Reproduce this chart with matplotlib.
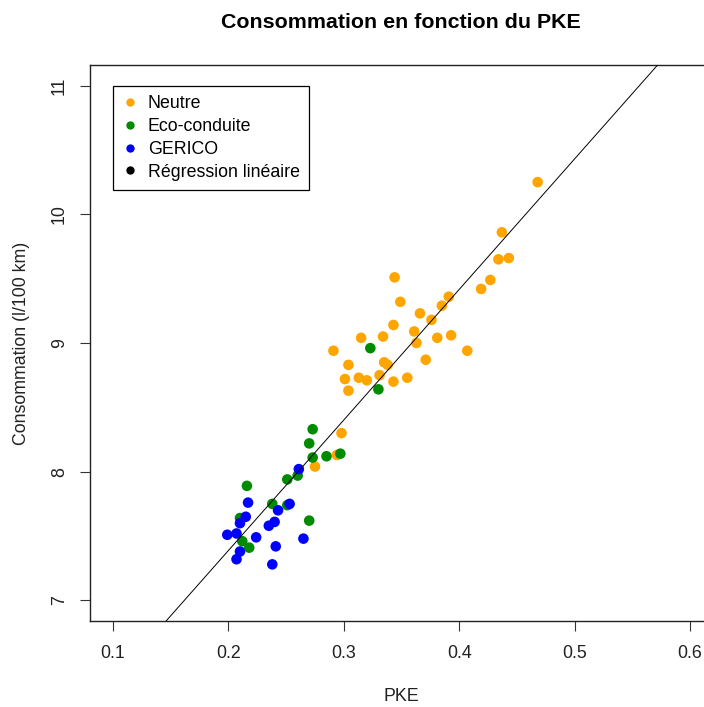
import matplotlib.pyplot as plt
import numpy as np
from matplotlib.lines import Line2D

# values
neutre_pke = [0.298, 0.294, 0.275, 0.344, 0.349, 0.366, 0.343, 0.361, 0.315, 0.334,
              0.363, 0.291, 0.371, 0.304, 0.335, 0.338, 0.301, 0.313, 0.320, 0.331,
              0.355, 0.343, 0.304, 0.468, 0.437, 0.434, 0.443, 0.427, 0.419, 0.391,
              0.385, 0.376, 0.381, 0.393, 0.407]
neutre_conso = [8.30, 8.13, 8.04, 9.51, 9.32, 9.23, 9.14, 9.09, 9.04, 9.05,
                9.00, 8.94, 8.87, 8.83, 8.85, 8.83, 8.72, 8.73, 8.71, 8.75,
                8.73, 8.70, 8.63, 10.25, 9.86, 9.65, 9.66, 9.49, 9.42, 9.36,
                9.29, 9.18, 9.04, 9.06, 8.94]

eco_pke = [0.273, 0.270, 0.273, 0.285, 0.297, 0.251, 0.260, 0.216, 0.238, 0.251,
           0.210, 0.270, 0.212, 0.218, 0.323, 0.330]
eco_conso = [8.33, 8.22, 8.11, 8.12, 8.14, 7.94, 7.97, 7.89, 7.75, 7.74,
             7.64, 7.62, 7.46, 7.41, 8.96, 8.64]

gerico_pke = [0.261, 0.217, 0.253, 0.243, 0.215, 0.210, 0.240, 0.235, 0.199, 0.207,
              0.224, 0.265, 0.241, 0.210, 0.207, 0.238]
gerico_conso = [8.02, 7.76, 7.75, 7.70, 7.65, 7.60, 7.61, 7.58, 7.51, 7.52,
                7.49, 7.48, 7.42, 7.38, 7.32, 7.28]

# regression line as drawn (abline of lm)
reg_intercept = 5.36
reg_slope = 10.14

x_ticks = [0.1, 0.2, 0.3, 0.4, 0.5, 0.6]
y_ticks = [7, 8, 9, 10, 11]

groups = [("Neutre", neutre_pke, neutre_conso, "#FFA500"),
          ("Eco-conduite", eco_pke, eco_conso, "#008B00"),
          ("GERICO", gerico_pke, gerico_conso, "#0000FF")]

plt.rcParams["font.family"] = ["Liberation Sans", "DejaVu Sans"]
fs = 12.8

fig = plt.figure(figsize=(7.04, 7.07), dpi=100)
ax = fig.add_axes([90 / 704, 86 / 707, 623 / 704, 556 / 707])

for name, xs, ys, col in groups:
    ax.scatter(xs, ys, s=58, color=col, edgecolors="none", zorder=2)

ax.axline((0, reg_intercept), slope=reg_slope, color="black", lw=0.7, zorder=3)

ax.set_xlim(0.08, 0.62)
ax.set_ylim(6.84, 11.16)
ax.set_xticks(x_ticks)
ax.set_xticklabels([f"{v:g}" for v in x_ticks])
ax.set_yticks(y_ticks)
ax.set_yticklabels([str(v) for v in y_ticks], rotation=90, va="center")
ax.tick_params(direction="out", length=7, width=0.8, labelsize=fs,
               color="#333333", labelcolor="#222222")
ax.tick_params(axis="x", pad=10)
ax.tick_params(axis="y", pad=9)
for sp in ax.spines.values():
    sp.set_linewidth(1.0)
    sp.set_color("#222222")

ax.set_xlabel("PKE", fontsize=fs, labelpad=19, color="#222222")
ax.set_ylabel("Consommation (l/100 km)", fontsize=fs, labelpad=15, color="#222222")
fig.text(401 / 704, 1 - 22 / 707, "Consommation en fonction du PKE", ha="center",
         va="center", fontsize=15.4, fontweight="bold")

handles = [Line2D([], [], ls="none", marker="o", ms=6, color=c, mec="none")
           for c in ["#FFA500", "#008B00", "#0000FF", "black"]]
labels = ["Neutre", "Eco-conduite", "GERICO", "Régression linéaire"]
leg = ax.legend(handles, labels, loc="upper left", bbox_to_anchor=(0.037, 0.962),
                borderaxespad=0, fontsize=fs, frameon=True, fancybox=False,
                edgecolor="black", framealpha=1, labelspacing=0.33,
                handlelength=0.9, handletextpad=0.55, borderpad=0.5)
leg.get_frame().set_linewidth(0.9)

fig.savefig("out.png", dpi=100)
